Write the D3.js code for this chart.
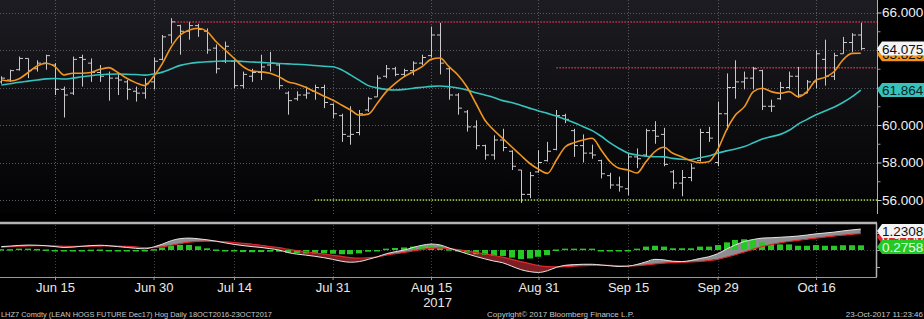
<!DOCTYPE html>
<html>
<head>
<meta charset="utf-8">
<script src="https://cdn.jsdelivr.net/npm/d3@7"></script>
<style>
  body { margin: 0; background: #000; }
  text { font-family: "Liberation Sans", Arial, sans-serif; }
</style>
</head>
<body>
<div id="chart"></div>
<script>
var svgWidth = 924;
var svgHeight = 319;

// Trading days shown (2017, month-day)
var tradingDays = [
  "06-07","06-08","06-09","06-12","06-13","06-14","06-15","06-16","06-19","06-20","06-21","06-22","06-23","06-26","06-27","06-28","06-29","06-30",
  "07-03","07-05","07-06","07-07","07-10","07-11","07-12","07-13","07-14","07-17","07-18","07-19","07-20","07-21","07-24","07-25","07-26","07-27","07-28","07-31",
  "08-01","08-02","08-03","08-04","08-07","08-08","08-09","08-10","08-11","08-14","08-15","08-16","08-17","08-18","08-21","08-22","08-23","08-24","08-25","08-28","08-29","08-30","08-31",
  "09-01","09-05","09-06","09-07","09-08","09-11","09-12","09-13","09-14","09-15","09-18","09-19","09-20","09-21","09-22","09-25","09-26","09-27","09-28","09-29",
  "10-02","10-03","10-04","10-05","10-06","10-09","10-10","10-11","10-12","10-13","10-16","10-17","10-18","10-19","10-20","10-23"
];

var opens = [62.3,62.4,62.95,63.55,63.0,63.3,63.2,61.9,61.7,63.6,63.3,62.8,62.7,62.5,62.3,61.8,61.7,62.3,
  63.5,64.8,65.3,65.0,65.3,65.0,64.1,63.4,63.4,62.1,62.6,62.8,63.2,63.2,61.7,61.4,61.6,61.8,62.0,61.1,
  60.5,59.4,59.6,60.8,61.5,62.6,63.0,62.7,62.9,63.3,63.7,64.8,63.0,61.6,60.7,59.9,58.9,58.4,59.2,58.6,57.6,56.3,57.5,
  58.1,58.7,60.5,59.7,58.9,58.5,58.1,57.3,56.8,56.6,58.3,58.4,59.7,59.5,57.5,56.9,57.2,58.1,59.6,58.0,
  60.6,62.0,62.3,62.5,62.9,61.0,61.4,62.0,62.6,61.7,62.3,63.5,62.6,63.8,64.4,64.8];
var highs = [62.6,62.95,63.65,63.55,63.45,63.75,63.3,62.05,63.65,63.75,63.55,63.2,62.85,62.75,62.4,62.05,62.5,63.6,
  64.8,65.7,65.35,65.5,65.4,65.15,64.3,64.45,63.5,62.85,63.0,63.75,63.9,63.3,61.8,61.8,62.05,62.15,62.15,61.15,
  60.6,61.0,60.8,61.5,62.65,63.2,63.1,63.0,63.4,63.75,65.25,65.45,63.1,61.7,60.8,60.25,58.95,59.45,59.8,58.65,57.6,57.5,58.65,
  59.1,60.8,60.6,59.8,59.5,58.95,58.15,57.45,57.25,58.5,58.75,59.8,60.2,59.85,57.6,57.6,57.95,59.8,59.9,61.25,
  62.75,63.45,62.85,63.1,62.95,61.35,62.3,62.85,63.1,62.4,64.0,64.55,63.85,64.7,64.9,65.45];
var lows = [62.2,62.3,62.9,62.5,62.85,62.95,61.6,60.4,61.6,62.05,62.3,62.3,61.3,61.6,61.35,61.25,61.4,61.9,
  63.45,64.35,63.75,64.55,64.7,63.8,62.75,63.3,61.95,61.95,62.3,62.4,62.85,61.9,60.55,61.3,61.4,61.35,60.9,60.35,
  59.1,58.95,59.45,60.7,61.5,62.5,62.6,62.6,62.65,63.2,63.6,62.7,61.35,60.55,59.65,58.7,58.15,58.15,58.6,57.6,55.85,56.1,57.45,
  58.05,58.65,60.1,58.3,58.0,58.2,57.15,56.6,56.45,56.25,57.7,58.3,59.0,57.8,56.6,56.2,57.0,58.05,59.1,57.8,
  59.75,61.4,61.9,61.9,60.8,60.7,61.35,61.9,61.45,61.7,61.95,62.1,62.4,63.8,63.9,64.0];
var closes = [62.5,62.9,63.55,62.9,63.3,63.7,61.9,61.6,63.5,63.5,62.8,62.6,62.5,62.4,61.9,61.7,62.2,63.4,
  64.7,65.5,65.0,65.3,65.1,64.0,63.0,64.2,62.1,62.7,62.8,63.1,63.3,62.1,61.3,61.6,61.7,62.0,61.2,60.6,
  59.5,59.5,60.6,61.4,62.5,63.0,62.7,62.9,63.3,63.6,64.8,63.3,61.6,60.9,59.9,58.9,58.4,59.2,58.8,57.8,56.3,57.3,58.0,
  58.6,60.5,60.3,58.9,58.5,58.4,57.4,56.8,56.7,58.3,58.2,59.7,59.4,57.9,56.9,57.2,57.7,59.6,59.3,60.6,
  62.0,62.3,62.5,63.0,61.0,61.0,62.0,62.6,61.6,62.3,63.8,62.6,63.7,64.4,64.8,64.075];

// moving averages (orange = fast, teal = slow)
var fastAvg = [62.40,62.35,62.47,62.80,63.15,63.29,63.11,62.67,62.76,62.76,62.80,62.97,63.06,62.80,62.49,62.26,62.10,62.58,
  63.29,64.18,64.80,65.07,65.16,64.98,64.44,64.00,63.56,63.11,62.88,62.84,62.76,62.58,62.31,62.19,62.01,61.78,61.55,61.33,
  61.07,60.80,60.52,60.58,61.16,61.78,62.22,62.58,62.84,63.11,63.50,63.57,63.11,62.67,62.04,61.16,60.27,59.73,59.29,58.84,58.40,57.96,57.64,
  57.42,58.13,58.84,59.06,59.20,59.29,58.67,58.04,57.69,57.60,57.44,58.04,58.58,58.81,58.49,58.31,58.10,57.99,58.04,58.67,
  59.73,60.53,60.98,61.78,61.96,61.78,61.69,61.78,61.51,61.78,62.40,62.54,62.84,63.47,63.82,63.829];
var slowAvg = [62.13,62.20,62.28,62.34,62.40,62.46,62.48,62.45,62.50,62.57,62.63,62.68,62.71,62.72,62.71,62.69,62.66,62.72,
  62.82,63.00,63.18,63.28,63.34,63.37,63.40,63.41,63.41,63.39,63.36,63.34,63.31,63.28,63.26,63.24,63.21,63.17,63.13,63.11,
  62.95,62.67,62.38,62.10,61.98,61.90,61.87,61.90,61.96,62.01,62.06,62.08,62.04,61.97,61.87,61.72,61.60,61.47,61.30,61.20,61.05,60.90,60.75,
  60.62,60.48,60.30,60.12,59.91,59.70,59.40,59.05,58.75,58.50,58.40,58.33,58.31,58.30,58.22,58.17,58.15,58.25,58.35,58.50,
  58.62,58.72,58.85,59.05,59.25,59.38,59.50,59.72,60.05,60.30,60.55,60.75,60.95,61.20,61.50,61.864];

// MACD panel
var macdLine = [0.20,0.23,0.27,0.29,0.28,0.25,0.20,0.15,0.17,0.22,0.26,0.28,0.25,0.20,0.15,0.10,0.07,0.18,
  0.35,0.55,0.67,0.70,0.66,0.60,0.52,0.42,0.33,0.26,0.20,0.15,0.08,0.00,-0.15,-0.24,-0.30,-0.37,-0.45,-0.55,
  -0.66,-0.72,-0.68,-0.55,-0.40,-0.22,-0.10,0.00,0.15,0.28,0.35,0.30,0.12,-0.05,-0.22,-0.38,-0.52,-0.65,-0.75,-0.95,-1.15,-1.27,-1.32,
  -1.22,-1.02,-0.90,-0.86,-0.84,-0.84,-0.88,-0.93,-0.97,-0.95,-0.85,-0.70,-0.55,-0.58,-0.66,-0.68,-0.62,-0.50,-0.40,-0.22,
  0.05,0.30,0.50,0.62,0.70,0.72,0.75,0.78,0.82,0.88,0.95,1.00,1.05,1.12,1.18,1.2308];
var signalLine = [0.16,0.19,0.22,0.24,0.25,0.25,0.24,0.22,0.21,0.21,0.22,0.23,0.24,0.23,0.21,0.18,0.14,0.14,
  0.19,0.28,0.38,0.46,0.51,0.52,0.51,0.48,0.44,0.39,0.34,0.28,0.20,0.14,0.05,-0.03,-0.10,-0.17,-0.24,-0.31,
  -0.38,-0.45,-0.48,-0.45,-0.40,-0.30,-0.22,-0.14,-0.05,0.04,0.10,0.12,0.08,0.02,-0.06,-0.15,-0.22,-0.32,-0.42,-0.55,-0.68,-0.80,-0.92,
  -0.98,-0.99,-0.98,-0.95,-0.92,-0.90,-0.90,-0.91,-0.93,-0.94,-0.92,-0.88,-0.82,-0.77,-0.74,-0.72,-0.70,-0.67,-0.62,-0.55,
  -0.42,-0.28,-0.12,0.05,0.20,0.32,0.42,0.50,0.57,0.63,0.70,0.76,0.82,0.87,0.92,0.955];
var histogram = [0.05,0.05,0.08,0.08,0.06,0.03,-0.03,-0.05,-0.03,0.00,0.02,0.03,-0.02,-0.05,-0.07,-0.08,-0.06,0.05,
  0.15,0.25,0.30,0.30,0.22,0.10,0.03,-0.03,-0.08,-0.12,-0.13,-0.12,-0.10,-0.10,-0.15,-0.18,-0.20,-0.20,-0.20,-0.22,
  -0.25,-0.25,-0.20,-0.10,0.00,0.08,0.12,0.15,0.20,0.22,0.28,0.20,0.05,-0.08,-0.15,-0.25,-0.28,-0.35,-0.35,-0.45,-0.53,-0.50,-0.40,
  -0.30,0.03,0.08,0.08,0.08,0.08,0.00,-0.02,-0.03,0.00,0.08,0.20,0.25,0.20,0.10,0.10,0.10,0.20,0.20,0.29,
  0.45,0.59,0.63,0.59,0.45,0.33,0.33,0.33,0.25,0.25,0.29,0.25,0.25,0.28,0.28,0.2758];

var dateTicks = ["06-15","06-30","07-14","07-31","08-15","08-31","09-15","09-29","10-16"];
var dateTickLabels = ["Jun 15","Jun 30","Jul 14","Jul 31","Aug 15","Aug 31","Sep 15","Sep 29","Oct 16"];
var priceTicks = [56, 58, 60, 62, 64, 66];
var priceMinorTicks = [57, 59, 61, 63, 65];

// horizontal trend levels drawn on the chart
var resistanceLevels = [65.5, 63.05];
var resistanceStarts = ["07-05", "09-05"];
var supportLevels = [56.0];
var supportStarts = ["07-27"];

var svg = d3.select("#chart")
  .append("svg")
  .attr("width", svgWidth)
  .attr("height", svgHeight);

var panelRight = 877;
var priceBottom = 214;
var macdTop = 223;
var macdBottom = 277;

var x = d3.scalePoint().domain(tradingDays).range([1.3, 860.8]);
var y = d3.scaleLinear().domain([56, 66]).range([200, 12.5]);
var yM = d3.scaleLinear().domain([-1, 1]).range([267, 233]);

var last = tradingDays.length - 1;
// last-value tags on the price axis hide the tick labels underneath them
var priceTagValues = [fastAvg[last], closes[last], slowAvg[last]];

var defs = svg.append("defs");
var grad = defs.append("linearGradient").attr("id", "bgPrice")
  .attr("x1", 0).attr("y1", 0).attr("x2", 0).attr("y2", 1);
grad.append("stop").attr("offset", "0%").attr("stop-color", "#1c1c22");
grad.append("stop").attr("offset", "100%").attr("stop-color", "#020203");

svg.append("rect").attr("width", svgWidth).attr("height", svgHeight).attr("fill", "#000");
svg.append("rect").attr("x", 0).attr("y", 0).attr("width", panelRight).attr("height", priceBottom)
  .attr("fill", "url(#bgPrice)");

// grid
var grid = svg.append("g");
grid.selectAll(".hgrid").data(priceTicks).enter().append("line")
  .attr("x1", 0).attr("x2", panelRight)
  .attr("y1", d => Math.round(y(d)) + 0.5).attr("y2", d => Math.round(y(d)) + 0.5)
  .attr("stroke", "#5a5a5e").attr("stroke-dasharray", "1,2");
grid.selectAll(".vgrid").data(dateTicks).enter().append("line")
  .attr("x1", d => Math.round(x(d)) + 0.5).attr("x2", d => Math.round(x(d)) + 0.5)
  .attr("y1", 0).attr("y2", priceBottom)
  .attr("stroke", "#5a5a5e").attr("stroke-dasharray", "1,2");
grid.selectAll(".vgridM").data(dateTicks).enter().append("line")
  .attr("x1", d => Math.round(x(d)) + 0.5).attr("x2", d => Math.round(x(d)) + 0.5)
  .attr("y1", macdTop + 2).attr("y2", macdBottom)
  .attr("stroke", "#444").attr("stroke-dasharray", "1,2");
grid.append("line")
  .attr("x1", 0).attr("x2", panelRight)
  .attr("y1", Math.round(yM(0)) + 0.5).attr("y2", Math.round(yM(0)) + 0.5)
  .attr("stroke", "#444").attr("stroke-dasharray", "1,2");

// level lines
var levels = svg.append("g");
resistanceLevels.forEach(function(v, i) {
  levels.append("line")
    .attr("x1", x(resistanceStarts[i])).attr("x2", panelRight)
    .attr("y1", y(v)).attr("y2", y(v))
    .attr("stroke", "#d0304a").attr("stroke-width", 1.5).attr("stroke-dasharray", "1.5,1.5");
});
supportLevels.forEach(function(v, i) {
  levels.append("line")
    .attr("x1", x(supportStarts[i])).attr("x2", panelRight)
    .attr("y1", y(v)).attr("y2", y(v))
    .attr("stroke", "#a6d23a").attr("stroke-width", 1.5).attr("stroke-dasharray", "1.5,1.5");
});

// OHLC bars
var bars = svg.append("g").attr("stroke", "#c9c9cc").attr("stroke-width", 1);
tradingDays.forEach(function(d, i) {
  var cx = Math.round(x(d)) + 0.5;
  bars.append("line").attr("x1", cx).attr("x2", cx).attr("y1", y(highs[i])).attr("y2", y(lows[i]));
  bars.append("line").attr("x1", cx - 3.5).attr("x2", cx).attr("y1", y(opens[i])).attr("y2", y(opens[i]));
  bars.append("line").attr("x1", cx).attr("x2", cx + 3.5).attr("y1", y(closes[i])).attr("y2", y(closes[i]));
});

// moving averages
var avgLine = d3.line().x((d, i) => x(tradingDays[i])).y(d => y(d)).curve(d3.curveMonotoneX);
svg.append("path").datum(slowAvg).attr("d", avgLine)
  .attr("fill", "none").attr("stroke", "#36c3bd").attr("stroke-width", 1.6);
svg.append("path").datum(fastAvg).attr("d", avgLine)
  .attr("fill", "none").attr("stroke", "#f0951f").attr("stroke-width", 1.6);

// price axis
svg.append("line").attr("x1", panelRight + 0.5).attr("x2", panelRight + 0.5)
  .attr("y1", 0).attr("y2", priceBottom).attr("stroke", "#b0b0b0");
var hiddenByTag = d => priceTagValues.some(v => Math.abs(y(v) - y(d)) < 12);
var yAxisG = svg.append("g").attr("transform", `translate(${panelRight + 0.5},0)`)
  .call(d3.axisRight(y).tickValues(priceTicks).tickSize(4)
    .tickFormat(d => hiddenByTag(d) ? "" : d3.format(".3f")(d)));
yAxisG.select(".domain").remove();
yAxisG.selectAll("line").attr("stroke", "#ccc");
yAxisG.selectAll("text").attr("fill", "#f0f0f0").style("font-size", "13.5px").attr("x", 4.5);
var yMinor = svg.append("g").attr("transform", `translate(${panelRight + 0.5},0)`)
  .call(d3.axisRight(y).tickValues(priceMinorTicks).tickSize(3).tickFormat(""));
yMinor.select(".domain").remove();
yMinor.selectAll("line").attr("stroke", "#999");

function tag(yc, label, fill, textColor) {
  var g = svg.append("g");
  var h = 7;
  g.append("path")
    .attr("d", `M${panelRight},${yc} L${panelRight + 5},${yc - h} L${svgWidth},${yc - h} L${svgWidth},${yc + h} L${panelRight + 5},${yc + h} Z`)
    .attr("fill", fill);
  g.append("text").attr("x", panelRight + 5).attr("y", yc + 5)
    .attr("fill", textColor).style("font-size", "13.5px").text(label);
}

tag(y(fastAvg[last]) + 1, d3.format(".3f")(fastAvg[last]), "#f0951f", "#111");
tag(y(closes[last]), d3.format(".3f")(closes[last]), "#f4f4f4", "#111");
tag(y(slowAvg[last]), d3.format(".3f")(slowAvg[last]), "#36c3bd", "#0c2424");

// MACD panel
var clipAbove = d3.area().x((d, i) => x(tradingDays[i])).y0(macdTop).y1(d => yM(d));
var clipBelow = d3.area().x((d, i) => x(tradingDays[i])).y0(d => yM(d)).y1(macdBottom);
defs.append("clipPath").attr("id", "aboveSignal").append("path").attr("d", clipAbove(signalLine));
defs.append("clipPath").attr("id", "belowSignal").append("path").attr("d", clipBelow(signalLine));

var between = d3.area()
  .x((d, i) => x(tradingDays[i]))
  .y0((d, i) => yM(signalLine[i]))
  .y1(d => yM(d));
svg.append("path").datum(macdLine).attr("d", between)
  .attr("clip-path", "url(#aboveSignal)").attr("fill", "#8e8e92");
svg.append("path").datum(macdLine).attr("d", between)
  .attr("clip-path", "url(#belowSignal)").attr("fill", "#7c1e22");

svg.append("g").selectAll("rect").data(histogram).enter().append("rect")
  .attr("x", (d, i) => Math.round(x(tradingDays[i])) - 3)
  .attr("width", 6)
  .attr("y", d => Math.min(yM(0), yM(d)))
  .attr("height", d => Math.max(1.5, Math.abs(yM(d) - yM(0))))
  .attr("fill", "#26c826");

var mLine = d3.line().x((d, i) => x(tradingDays[i])).y(d => yM(d)).curve(d3.curveMonotoneX);
svg.append("path").datum(signalLine).attr("d", mLine)
  .attr("fill", "none").attr("stroke", "#e0282c").attr("stroke-width", 1.2);
svg.append("path").datum(macdLine).attr("d", mLine)
  .attr("fill", "none").attr("stroke", "#e6e6e6").attr("stroke-width", 1);

// MACD frame
svg.append("line").attr("x1", 0).attr("x2", panelRight).attr("y1", macdTop).attr("y2", macdTop)
  .attr("stroke", "#b4b4b8").attr("stroke-width", 2.5);
svg.append("line").attr("x1", 0).attr("x2", panelRight).attr("y1", macdBottom + 0.5).attr("y2", macdBottom + 0.5)
  .attr("stroke", "#9a9a9a");
svg.append("line").attr("x1", panelRight - 0.5).attr("x2", panelRight - 0.5).attr("y1", macdTop).attr("y2", macdBottom)
  .attr("stroke", "#b4b4b8").attr("stroke-width", 1.5);
var mAxis = svg.append("g").attr("transform", `translate(${panelRight},0)`)
  .call(d3.axisRight(yM).tickValues([-1, 0, 1]).tickSize(3).tickFormat(""));
mAxis.select(".domain").remove();
mAxis.selectAll("line").attr("stroke", "#aaa");

// last-value tags, signal tag sits under the MACD tag
var macdTagY = Math.max(yM(macdLine[last]), macdTop + 8);
tag(macdTagY + 6, d3.format(".4f")(signalLine[last]), "#e0282c", "#f4f4f4");
tag(macdTagY, d3.format(".4f")(macdLine[last]), "#f4f4f4", "#111");
tag(Math.max(yM(histogram[last]), macdTagY + 16), d3.format(".4f")(histogram[last]), "#26c826", "#e6ffe6");

// date axis
var xAxisG = svg.append("g").attr("transform", `translate(0,${macdBottom})`)
  .call(d3.axisBottom(x).tickValues(dateTicks).tickSize(3)
    .tickFormat((d, i) => dateTickLabels[i]));
xAxisG.select(".domain").remove();
xAxisG.selectAll("line").attr("stroke", "#999");
xAxisG.selectAll("text").attr("fill", "#e8e8e8").style("font-size", "13px");

svg.append("text").attr("x", x("08-15") + 21).attr("y", 307)
  .attr("text-anchor", "end").attr("fill", "#e8e8e8").style("font-size", "13px").text("2017");

// footer
var foot = svg.append("g").attr("fill", "#c8c8c8").style("font-size", "8px").style("white-space", "pre");
foot.append("text").attr("x", 1).attr("y", 317)
  .attr("textLength", 271).attr("lengthAdjust", "spacingAndGlyphs")
  .text("LHZ7 Comdty (LEAN HOGS FUTURE  Dec17) Hog  Daily 18OCT2016-23OCT2017");
foot.append("text").attr("x", 487).attr("y", 317).text("Copyright\u00a9 2017 Bloomberg Finance L.P.");
foot.append("text").attr("x", 923).attr("y", 317).attr("text-anchor", "end").text("23-Oct-2017 11:23:46");
</script>
</body>
</html>
